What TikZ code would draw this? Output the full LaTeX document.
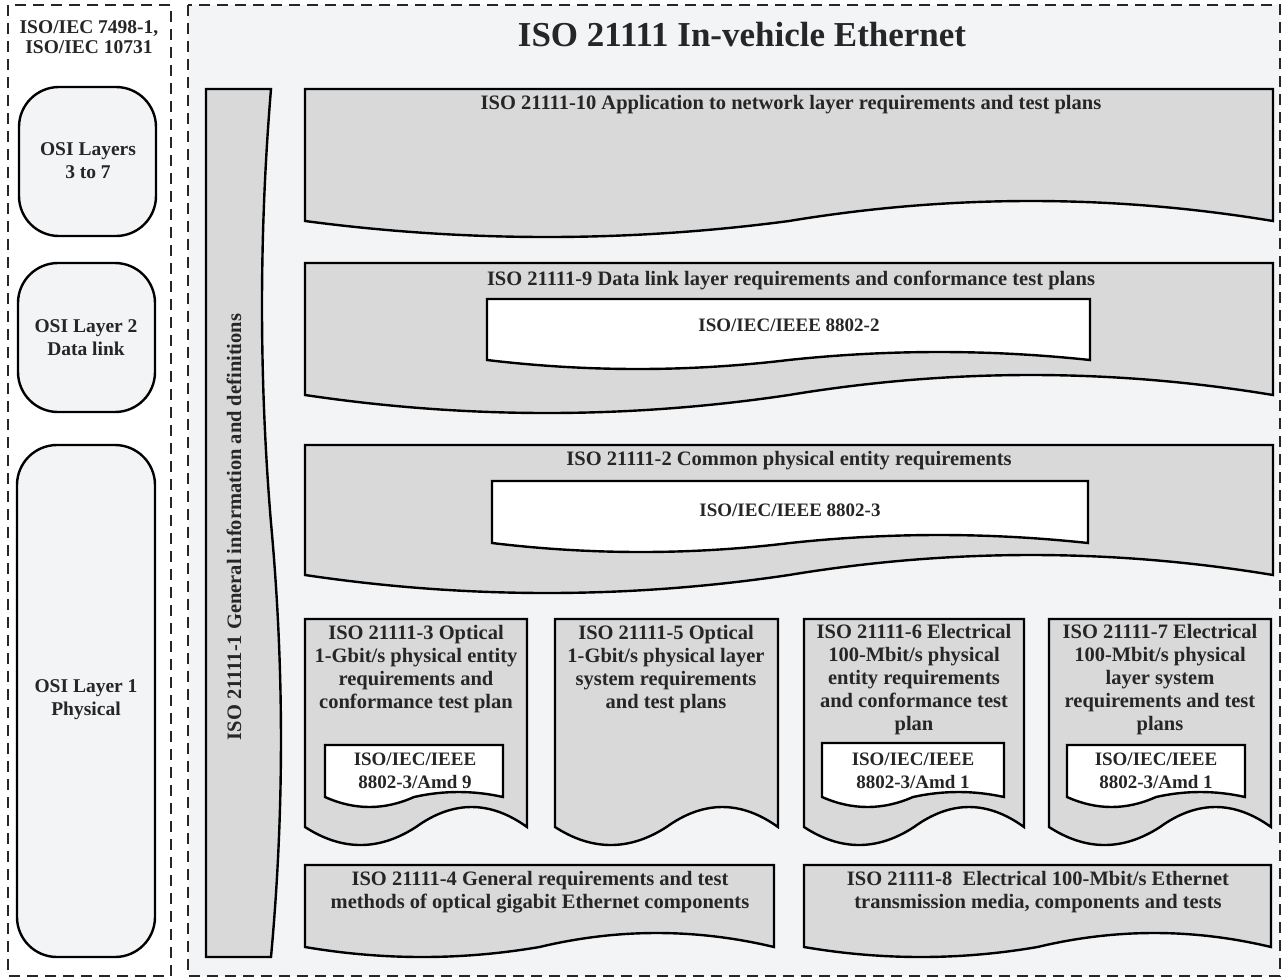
\documentclass[tikz,border=0pt]{standalone}
\usepackage{fontspec}
\setmainfont{Liberation Serif}
\definecolor{pagebg}{RGB}{243,244,246}
\definecolor{boxgray}{RGB}{217,217,217}
\definecolor{txt}{RGB}{38,38,38}
\newcommand\docbox[7]{%
  \pgfmathsetmacro\dbW{#3-#1}%
  \pgfmathsetmacro\dbM{(#1+#3)/2}%
  \filldraw[boxline, fill=#7] (#1,#2) -- (#3,#2) -- (#3,#4)
    .. controls ({#3-\dbW/6},{#4-4/3*#6}) and ({#3-\dbW/3},{#4-4/3*#6}) .. (\dbM,#4)
    .. controls ({#1+\dbW/3},{#4+4/3*#5}) and ({#1+\dbW/6},{#4+4/3*#5}) .. (#1,#4) -- cycle;}
\tikzset{
  boxline/.style={draw=black, line width=2.4pt, line join=miter},
  frame/.style={draw=black!85, line width=1.8pt, dash pattern=on 11pt off 7pt},
  osibox/.style={draw=black, line width=2.4pt, fill=pagebg, rounded corners=40pt},
  lbl/.style={text=txt, align=center, inner sep=0pt, font=\fontsize{20.5}{23}\selectfont\bfseries},
  lblsm/.style={lbl, font=\fontsize{19.5}{23}\selectfont\bfseries},
  lblin/.style={lbl, font=\fontsize{19}{23}\selectfont\bfseries},
}
\begin{document}
\begin{tikzpicture}[x=1pt, y=-1pt]
\useasboundingbox (0,0) rectangle (1283,978);
\fill[white] (0,0) rectangle (1283,978);
% frames
\draw[frame] (8,5) rectangle (171,976);
\filldraw[frame, fill=pagebg] (188,5) rectangle (1280,976);
\node[lbl, font=\fontsize{19.5}{20}\selectfont\bfseries] (hdr) at (89,37) {ISO/IEC 7498-1,\\ISO/IEC 10731};
\node[lbl, font=\fontsize{35}{38}\selectfont\bfseries] (title) at (742,35) {ISO 21111 In-vehicle Ethernet};
% OSI boxes
\draw[osibox] (19,87) rectangle (156,236);
\node[lblsm] (osi37) at (88,161) {OSI Layers\\3 to 7};
\draw[osibox] (18,263) rectangle (155,412);
\node[lblsm] (osi2) at (86,338) {OSI Layer 2\\Data link};
\draw[osibox] (17,445) rectangle (155,957);
\node[lblsm] (osi1) at (86,700) {OSI Layer 1\\Physical};
% vertical part 1
\filldraw[boxline, fill=boxgray] (206,89) -- (271,89)
  .. controls (259,233.7) and (259,378.3) .. (271,523)
  .. controls (284.3,667.7) and (284.3,812.3) .. (271,957) -- (206,957) -- cycle;
\node[lbl, rotate=90] (p1) at (234,527) {ISO 21111-1 General information and definitions};
% big boxes
\docbox{305}{89}{1273}{221}{16}{20}{boxgray}
\node[lbl] (p10) at (791,105) {ISO 21111-10 Application to network layer requirements and test plans};
\docbox{305}{263}{1273}{395}{18}{20}{boxgray}
\node[lbl] (p9) at (791,280) {ISO 21111-9 Data link layer requirements and conformance test plans};
\docbox{487}{299}{1090}{360}{9}{8}{white}
\node[lblin] (s2) at (789,325) {ISO/IEC/IEEE 8802-2};
\docbox{305}{445}{1273}{575}{18}{20}{boxgray}
\node[lbl] (p2) at (789,461) {ISO 21111-2 Common physical entity requirements};
\docbox{492}{481}{1088}{543}{9}{8}{white}
\node[lblin] (s3) at (790,510) {ISO/IEC/IEEE 8802-3};
% small boxes
\docbox{305}{619}{527}{827}{18}{20}{boxgray}
\node[lbl] (p3) at (416,669.5) {ISO 21111-3 Optical\\1-Gbit/s physical entity\\requirements and\\conformance test plan};
\docbox{325}{745}{503}{797}{10}{5}{white}
\node[lblin] (a9) at (415,771) {ISO/IEC/IEEE\\8802-3/Amd 9};
\docbox{555}{619}{778}{827}{18}{20}{boxgray}
\node[lbl] (p5) at (666,669.5) {ISO 21111-5 Optical\\1-Gbit/s physical layer\\system requirements\\and test plans};
\docbox{804}{619}{1024}{827}{18}{20}{boxgray}
\node[lbl] (p6) at (914,680) {ISO 21111-6 Electrical\\100-Mbit/s physical\\entity requirements\\and conformance test\\plan};
\docbox{822}{743}{1004}{797}{10}{5}{white}
\node[lblin] (a1a) at (913,771) {ISO/IEC/IEEE\\8802-3/Amd 1};
\docbox{1049}{619}{1271}{827}{18}{20}{boxgray}
\node[lbl] (p7) at (1160,680) {ISO 21111-7 Electrical\\100-Mbit/s physical\\layer system\\requirements and test\\plans};
\docbox{1067}{745}{1245}{797}{10}{5}{white}
\node[lblin] (a1b) at (1156,771) {ISO/IEC/IEEE\\8802-3/Amd 1};
% bottom boxes
\docbox{305}{865}{774}{947}{10}{14}{boxgray}
\node[lbl] (p4) at (540,892.5) {ISO 21111-4 General requirements and test\\methods of optical gigabit Ethernet components};
\docbox{804}{865}{1271}{947}{10}{14}{boxgray}
\node[lbl] (p8) at (1038,892.5) {ISO 21111-8\ \ Electrical 100-Mbit/s Ethernet\\transmission media, components and tests};
\end{tikzpicture}
\end{document}
